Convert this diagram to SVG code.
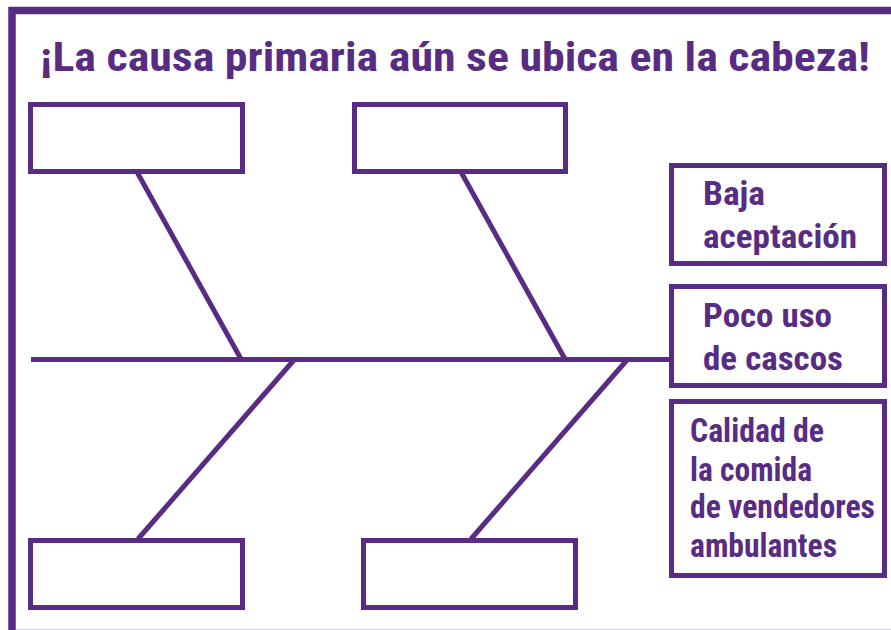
<svg xmlns="http://www.w3.org/2000/svg" width="891" height="630" viewBox="0 0 891 630">
<style>
.f{fill:none;stroke:#582C83;stroke-width:5}
.c{stroke:#582C83;stroke-width:5;fill:none}
.t{font-family:"Roboto Condensed",Roboto,"Liberation Sans",sans-serif;font-weight:bold;fill:#582C83}
.lbl{font-size:32.5px}
</style>
<rect x="0" y="0" width="891" height="630" fill="#ffffff"/>
<g id="frame">
<rect x="12" y="10.5" width="900" height="623" fill="none" stroke="#582C83" stroke-width="7.5"/>
</g>
<g id="title">
<text class="t" x="40" y="71" font-size="40" textLength="830" lengthAdjust="spacingAndGlyphs">¡La causa primaria aún se ubica en la cabeza!</text>
</g>
<g id="connectors">
<line class="c" x1="31" y1="359.5" x2="670" y2="359.5"/>
<line class="c" x1="137" y1="172" x2="241" y2="359"/>
<line class="c" x1="461" y1="172" x2="565" y2="359"/>
<line class="c" x1="294" y1="360" x2="138" y2="539"/>
<line class="c" x1="627" y1="360" x2="471" y2="539"/>
</g>
<g id="box-top-left"><rect class="f" x="30.5" y="104.5" width="212" height="67"/></g>
<g id="box-top-mid"><rect class="f" x="354.5" y="104.5" width="211" height="67"/></g>
<g id="box-bot-left"><rect class="f" x="30.5" y="540.5" width="212" height="67"/></g>
<g id="box-bot-mid"><rect class="f" x="363.5" y="540.5" width="212" height="67"/></g>
<g id="box-baja">
<rect class="f" x="671.5" y="165.5" width="213" height="98"/>
<text class="t lbl" x="703" y="205" textLength="62" lengthAdjust="spacingAndGlyphs">Baja</text>
<text class="t lbl" x="703" y="248" textLength="154" lengthAdjust="spacingAndGlyphs">aceptación</text>
</g>
<g id="box-poco">
<rect class="f" x="671.5" y="286.5" width="213" height="99"/>
<text class="t lbl" x="703" y="327" textLength="129" lengthAdjust="spacingAndGlyphs">Poco uso</text>
<text class="t lbl" x="703" y="370" textLength="140" lengthAdjust="spacingAndGlyphs">de cascos</text>
</g>
<g id="box-calidad">
<rect class="f" x="671.5" y="401.5" width="213" height="174"/>
<text class="t lbl" x="690" y="442" textLength="134" lengthAdjust="spacingAndGlyphs">Calidad de</text>
<text class="t lbl" x="690" y="481" textLength="122" lengthAdjust="spacingAndGlyphs">la comida</text>
<text class="t lbl" x="690" y="518" textLength="185" lengthAdjust="spacingAndGlyphs">de vendedores</text>
<text class="t lbl" x="690" y="557" textLength="147" lengthAdjust="spacingAndGlyphs">ambulantes</text>
</g>
</svg>
